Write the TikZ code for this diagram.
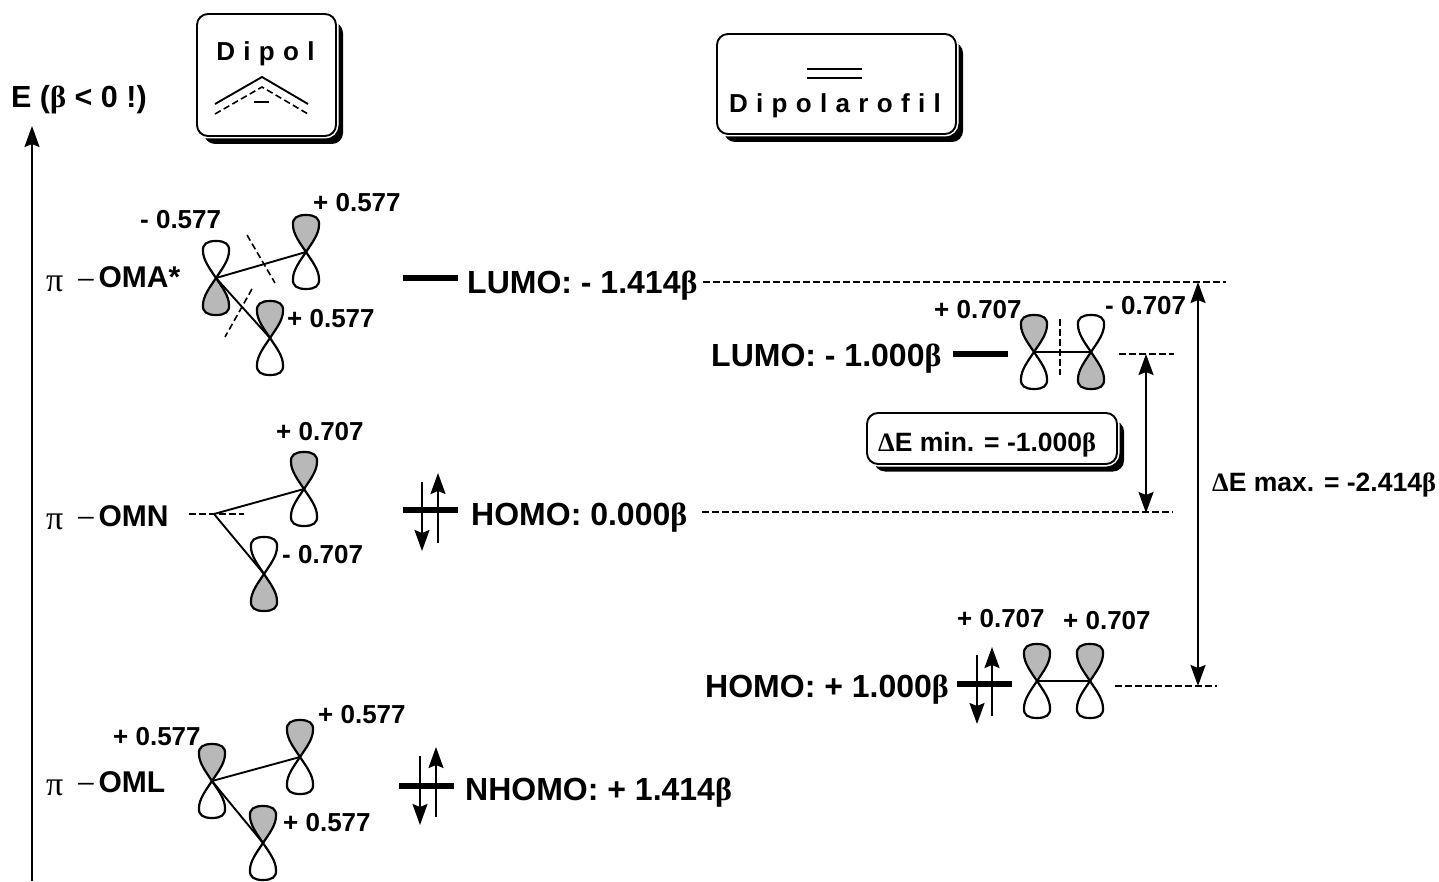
\documentclass[tikz,border=0pt]{standalone}
\usepackage{fontspec}
\usetikzlibrary{arrows.meta}
\setmainfont{Liberation Sans}
\newfontfamily\greekf{Liberation Serif}
\newfontfamily\spacedf[LetterSpace=32]{Liberation Sans}
\definecolor{lobegrey}{gray}{0.72}
\newcommand{\bet}{{\greekf\bfseries β}}
\newcommand{\delt}{{\greekf\bfseries Δ}}
\newcommand{\pimin}{\raisebox{-3.5pt}{\fontsize{34}{34}\selectfont\greekf\mdseries π\hspace{13pt}−}\hspace{3pt}}
\newcommand{\orb}[5]{%
  \coordinate (#1) at (#2,#3);
  \begin{scope}[shift={(#2,#3)}]
    \path[lobe,fill=#4] (0,0) .. controls (-6,-9) and (-13,-18) .. (-13,-27) .. controls (-13.5,-34) and (-9,-37) .. (0,-37) .. controls (9,-37) and (13.5,-34) .. (13,-27) .. controls (13,-18) and (6,-9) .. (0,0) -- cycle;
    \path[lobe,fill=#5] (0,0) .. controls (-6,9) and (-13,18) .. (-13,27) .. controls (-13.5,34) and (-9,37) .. (0,37) .. controls (9,37) and (13.5,34) .. (13,27) .. controls (13,18) and (6,9) .. (0,0) -- cycle;
  \end{scope}}
\tikzset{
  lobe/.style={draw=black,line width=2.2pt},
  thinline/.style={draw=black,line width=1.9pt},
  dashline/.style={draw=black,line width=1.6pt,dash pattern=on 6.5pt off 3.5pt},
  level/.style={draw=black,line width=6.5pt},
  tipa/.tip={Stealth[length=21pt,width=15pt,inset=3pt]},
  arr/.style={draw=black,line width=1.9pt,-tipa},
  arrs/.style={draw=black,line width=1.9pt,tipa-tipa},
  coef/.style={anchor=base west,inner sep=0pt,font=\fontsize{26}{30}\selectfont\bfseries},
  lvl/.style={anchor=base west,inner sep=0pt,font=\fontsize{32}{36}\selectfont\bfseries},
  orbl/.style={anchor=base west,inner sep=0pt,font=\fontsize{30}{34}\selectfont\bfseries},
  small/.style={anchor=base west,inner sep=0pt,font=\fontsize{26.5}{30}\selectfont\bfseries},
  card/.style={draw=black,fill=white,line width=1.9pt,rounded corners=11pt,inner sep=0pt,preaction={draw=white,line width=5pt}},
  cardshadow/.style={fill=black,rounded corners=11pt,inner sep=0pt}
}
\begin{document}
\begin{tikzpicture}[x=1pt,y=-1pt]
\useasboundingbox (0,0) rectangle (1439,882);
% header boxes
\node[cardshadow,minimum width=139pt,minimum height=122pt] (dipolS) at (273.5,83) {};
\node[card,minimum width=139pt,minimum height=122pt] (dipol) at (266.5,75) {};
\node[anchor=base,inner sep=0pt,font=\fontsize{26}{30}\selectfont\bfseries\spacedf] (dipolT) at (265.5,61) {Dipol};
\coordinate (c1) at (215,104); \coordinate (c2) at (262,77); \coordinate (c3) at (308,104);
\coordinate (c4) at (215,114); \coordinate (c5) at (262,87); \coordinate (c6) at (308,114);
\coordinate (c7) at (254,102); \coordinate (c8) at (269,102);
\draw[thinline] (c1) -- (c2) -- (c3);
\draw[dashline] (c4) -- (c5) -- (c6);
\draw[thinline] (c7) -- (c8);
\node[cardshadow,minimum width=239pt,minimum height=100pt] (dpfS) at (843.5,92) {};
\node[card,minimum width=239pt,minimum height=100pt] (dpf) at (836.5,84) {};
\node[anchor=base,inner sep=0pt,font=\fontsize{26}{30}\selectfont\bfseries\spacedf] (dpfT) at (835,113) {Dipolarofil};
\coordinate (d1) at (807,69); \coordinate (d2) at (862,69); \coordinate (d3) at (807,78); \coordinate (d4) at (862,78);
\draw[thinline] (d1) -- (d2); \draw[thinline] (d3) -- (d4);
% axis
\node[anchor=base west,inner sep=0pt,font=\fontsize{30.5}{34}\selectfont\bfseries] (axT) at (11,108) {E (\bet{} < 0 !)};
\coordinate (ax0) at (32,881); \coordinate (ax1) at (32,126);
\draw[arr] (ax0) -- (ax1);
% OMA
\node[orbl] (omaT) at (46,288) {\pimin OMA*};
\orb{a1}{216}{278}{white}{lobegrey}
\orb{a2}{306}{252}{lobegrey}{white}
\orb{a3}{270}{338}{lobegrey}{white}
\draw[thinline] (a1) -- (a2); \draw[thinline] (a1) -- (a3);
\coordinate (a4) at (247,235); \coordinate (a5) at (275,283); \coordinate (a6) at (252,289); \coordinate (a7) at (225,337);
\draw[dashline] (a4) -- (a5); \draw[dashline] (a6) -- (a7);
\node[coef] (a1T) at (140,229) {- 0.577};
\node[coef] (a2T) at (313,212) {+ 0.577};
\node[coef] (a3T) at (287,327) {+ 0.577};
\coordinate (a8) at (403,278); \coordinate (a9) at (458,278);
\draw[level] (a8) -- (a9);
\node[lvl] (a10) at (467,294) {LUMO: - 1.414\bet};
% OMN
\node[orbl] (omnT) at (46,526) {\pimin OMN};
\orb{n1}{304}{489}{lobegrey}{white}
\orb{n2}{264}{574}{white}{lobegrey}
\coordinate (n0) at (214,514); \coordinate (n3) at (189,514); \coordinate (n4) at (244,514);
\draw[dashline] (n3) -- (n4);
\draw[thinline] (n0) -- (n1); \draw[thinline] (n0) -- (n2);
\node[coef] (n1T) at (276,440) {+ 0.707};
\node[coef] (n2T) at (282,563) {- 0.707};
\coordinate (n5) at (403,510); \coordinate (n6) at (458,510);
\draw[level] (n5) -- (n6);
\coordinate (n7) at (422,482); \coordinate (n8) at (422,551); \coordinate (n9) at (438,543); \coordinate (n10) at (438,473);
\draw[arr] (n7) -- (n8); \draw[arr] (n9) -- (n10);
\node[lvl] (n11) at (471,525) {HOMO: 0.000\bet};
% OML
\node[orbl] (omlT) at (46,792) {\pimin OML};
\orb{l1}{212}{781}{lobegrey}{white}
\orb{l2}{300}{757}{lobegrey}{white}
\orb{l3}{263}{843}{lobegrey}{white}
\draw[thinline] (l1) -- (l2); \draw[thinline] (l1) -- (l3);
\node[coef] (l1T) at (113,745) {+ 0.577};
\node[coef] (l2T) at (318,723) {+ 0.577};
\node[coef] (l3T) at (283,831) {+ 0.577};
\coordinate (l5) at (399,786); \coordinate (l6) at (454,786);
\draw[level] (l5) -- (l6);
\coordinate (l7) at (420,756); \coordinate (l8) at (420,825); \coordinate (l9) at (436,817); \coordinate (l10) at (436,747);
\draw[arr] (l7) -- (l8); \draw[arr] (l9) -- (l10);
\node[lvl] (l11) at (465,800) {NHOMO: + 1.414\bet};
% Dipolarofil LUMO
\node[lvl] (r1) at (711,366) {LUMO: - 1.000\bet};
\coordinate (r2) at (953,354); \coordinate (r3) at (1008,354);
\draw[level] (r2) -- (r3);
\orb{r4}{1034}{352}{lobegrey}{white}
\orb{r5}{1091}{352}{white}{lobegrey}
\draw[thinline] (r4) -- (r5);
\coordinate (r6) at (1060,319); \coordinate (r7) at (1060,375);
\draw[dashline] (r6) -- (r7);
\node[coef] (r8) at (934,319) {+ 0.707};
\node[coef] (r9) at (1105,315) {- 0.707};
% Dipolarofil HOMO
\node[lvl] (h1) at (705,697) {HOMO: + 1.000\bet};
\coordinate (h2) at (957,684); \coordinate (h3) at (1012,684);
\draw[level] (h2) -- (h3);
\coordinate (h7) at (977,655); \coordinate (h8) at (977,724); \coordinate (h9) at (992,716); \coordinate (h10) at (992,647);
\draw[arr] (h7) -- (h8); \draw[arr] (h9) -- (h10);
\orb{h4}{1037}{681}{lobegrey}{white}
\orb{h5}{1090}{681}{lobegrey}{white}
\draw[thinline] (h4) -- (h5);
\node[coef] (h11) at (957,627) {+ 0.707};
\node[coef] (h12) at (1063,629) {+ 0.707};
% guide lines
\coordinate (g1) at (703,282); \coordinate (g2) at (1226,282);
\coordinate (g3) at (1119,354); \coordinate (g4) at (1174,354);
\coordinate (g5) at (702,512); \coordinate (g6) at (1173,512);
\coordinate (g7) at (1115,686); \coordinate (g8) at (1217,686);
\draw[dashline] (g1) -- (g2); \draw[dashline] (g3) -- (g4);
\draw[dashline] (g5) -- (g6); \draw[dashline] (g7) -- (g8);
\coordinate (e1) at (1146,354); \coordinate (e2) at (1146,513);
\coordinate (e3) at (1198,282); \coordinate (e4) at (1198,686);
\draw[arrs] (e1) -- (e2); \draw[arrs] (e3) -- (e4);
% energy gaps
\node[cardshadow,minimum width=250pt,minimum height=51pt] (minS) at (999,446) {};
\node[card,minimum width=250pt,minimum height=51pt] (minB) at (992,438.5) {};
\node[small] (minT) at (878,451) {\delt{}E min. = -1.000\bet};
\node[small] (maxT) at (1212,491) {\delt{}E max. = -2.414\bet};
\end{tikzpicture}
\end{document}
